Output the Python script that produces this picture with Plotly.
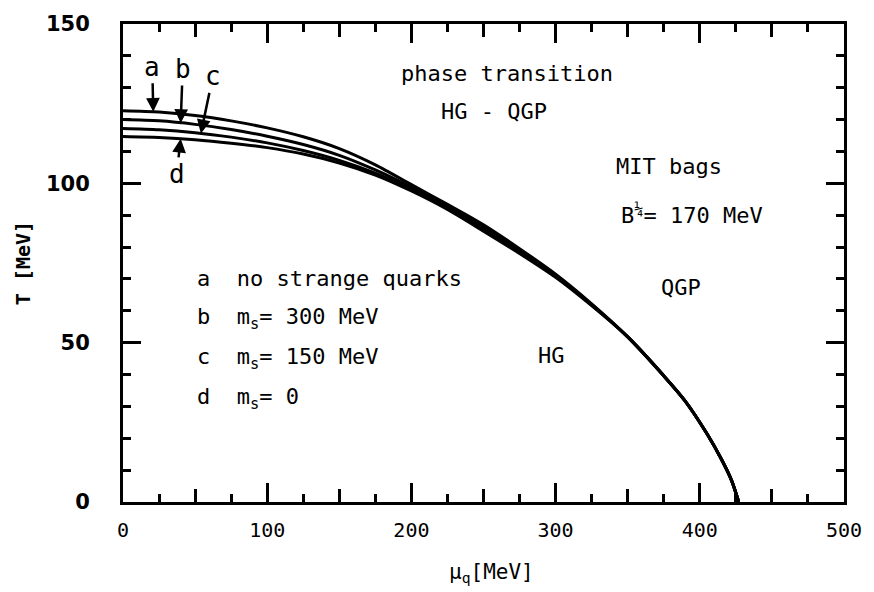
import numpy as np
import plotly.graph_objects as go

# chemical potential grid (MeV) and transition temperatures (MeV) for the four cases
mu = [0, 25, 50, 75, 100, 125, 150, 175, 200, 225, 250, 275, 300, 325, 350, 375, 390, 405, 415, 422, 427]
T_a = [122.8, 122.4, 121.3, 119.6, 117.4, 114.6, 110.9, 105.8, 99.6, 93.4, 87.0, 79.5, 71.5, 62.2, 51.8, 39.6, 31.6, 21.4, 13.4, 6.8, 0]
T_b = [120.0, 119.6, 118.5, 116.9, 114.8, 112.2, 108.8, 104.2, 98.8, 92.9, 86.3, 79.0, 71.1, 62.0, 51.8, 39.6, 31.6, 21.4, 13.4, 6.8, 0]
T_c = [117.2, 116.8, 115.9, 114.5, 112.7, 110.3, 107.2, 103.2, 98.2, 92.3, 85.6, 78.5, 70.8, 61.8, 51.8, 39.6, 31.6, 21.4, 13.4, 6.8, 0]
T_d = [114.7, 114.4, 113.7, 112.6, 111.2, 109.2, 106.4, 102.6, 97.6, 91.8, 85.0, 78.0, 70.5, 61.6, 51.8, 39.6, 31.6, 21.4, 13.4, 6.8, 0]

curve_labels = ["a", "b", "c", "d"]
legend_lines = [
    "a  no strange quarks",
    "b  m<sub>s</sub>= 300 MeV",
    "c  m<sub>s</sub>= 150 MeV",
    "d  m<sub>s</sub>= 0",
]
x_tickvals = [0, 100, 200, 300, 400, 500]
y_tickvals = [0, 50, 100, 150]

MONO = "DejaVu Sans Mono"
fig = go.Figure()
for T in (T_a, T_b, T_c, T_d):
    fig.add_trace(go.Scatter(x=mu, y=T, mode="lines",
                             line=dict(color="black", width=3, shape="spline", smoothing=0.8),
                             hoverinfo="skip", showlegend=False))
# dummy trace for the secondary (tick-only) axis
fig.add_trace(go.Scatter(x=[None], y=[None], xaxis="x2", yaxis="y", showlegend=False))

axis_common = dict(showgrid=False, zeroline=False, showline=True, linecolor="black",
                   linewidth=3, mirror="ticks", ticks="inside", tickcolor="black")
fig.update_layout(
    width=874, height=592,
    margin=dict(l=123, r=29, t=22, b=90),
    paper_bgcolor="white", plot_bgcolor="white",
    xaxis=dict(range=[0, 500], tickvals=x_tickvals, ticklen=19, tickwidth=2.5,
               tickfont=dict(family=MONO, size=20, color="black"), ticklabelstandoff=8,
               minor=dict(dtick=25, ticklen=8, tickwidth=2.5, ticks="inside", tickcolor="black"),
               **axis_common),
    xaxis2=dict(range=[0, 500], overlaying="x", side="bottom", dtick=50, tick0=0,
                ticklen=13, tickwidth=2.5, showticklabels=False, showgrid=False,
                zeroline=False, showline=False, mirror="ticks", ticks="inside", tickcolor="black"),
    yaxis=dict(range=[0, 150], tickvals=y_tickvals, ticklen=18, tickwidth=2.5,
               tickfont=dict(family="DejaVu Sans", size=21, color="black", weight="bold"),
               ticklabelstandoff=26,
               minor=dict(dtick=10, ticklen=8, tickwidth=2.5, ticks="inside", tickcolor="black"),
               **axis_common),
)

ann = []
# arrow labels pointing at curves
arrow_specs = [("a", T_a, 21, -1, -45), ("b", T_b, 40, 2, -54),
               ("c", T_c, 54, 12, -57), ("d", T_d, 40, -4, 35)]
for lab, T, m, ax, ay in arrow_specs:
    ann.append(dict(x=m, y=float(np.interp(m, mu, T)), xref="x", yref="y", text=lab,
                    showarrow=True, ax=ax, ay=ay, arrowhead=2, arrowsize=1.1, arrowwidth=2.5,
                    arrowcolor="black", standoff=0, font=dict(family=MONO, size=26, color="black")))

def txt(x, y, s, size=22, xanchor="center", **kw):
    ann.append(dict(x=x, y=y, xref="x", yref="y", text=s, showarrow=False, xanchor=xanchor,
                    yanchor="middle", font=dict(family=MONO, size=size, color="black"), **kw))

txt(266, 134.4, "phase transition")
txt(257.3, 122.5, "HG - QGP")
txt(378.8, 105.3, "MIT bags")
txt(344.2, 90.3, "B<sup>¼</sup>= 170 MeV", xanchor="left")
txt(386.8, 67.2, "QGP")
txt(297, 46.0, "HG")
for i, s in enumerate(legend_lines):
    txt(49.9, 70 - 12.5 * i, s, xanchor="left")

ann.append(dict(x=0.511, y=-0.148, xref="paper", yref="paper", text="μ<sub>q</sub>[MeV]",
                xanchor="center", yanchor="middle",
                showarrow=False, font=dict(family=MONO, size=21, color="black")))
ann.append(dict(x=-0.1385, y=0.5, xref="paper", yref="paper", text="T [MeV]", textangle=-90,
                xanchor="center", yanchor="middle",
                showarrow=False, font=dict(family=MONO, size=20, color="black", weight="bold")))
fig.update_layout(annotations=ann)

fig.write_html("out.html")
